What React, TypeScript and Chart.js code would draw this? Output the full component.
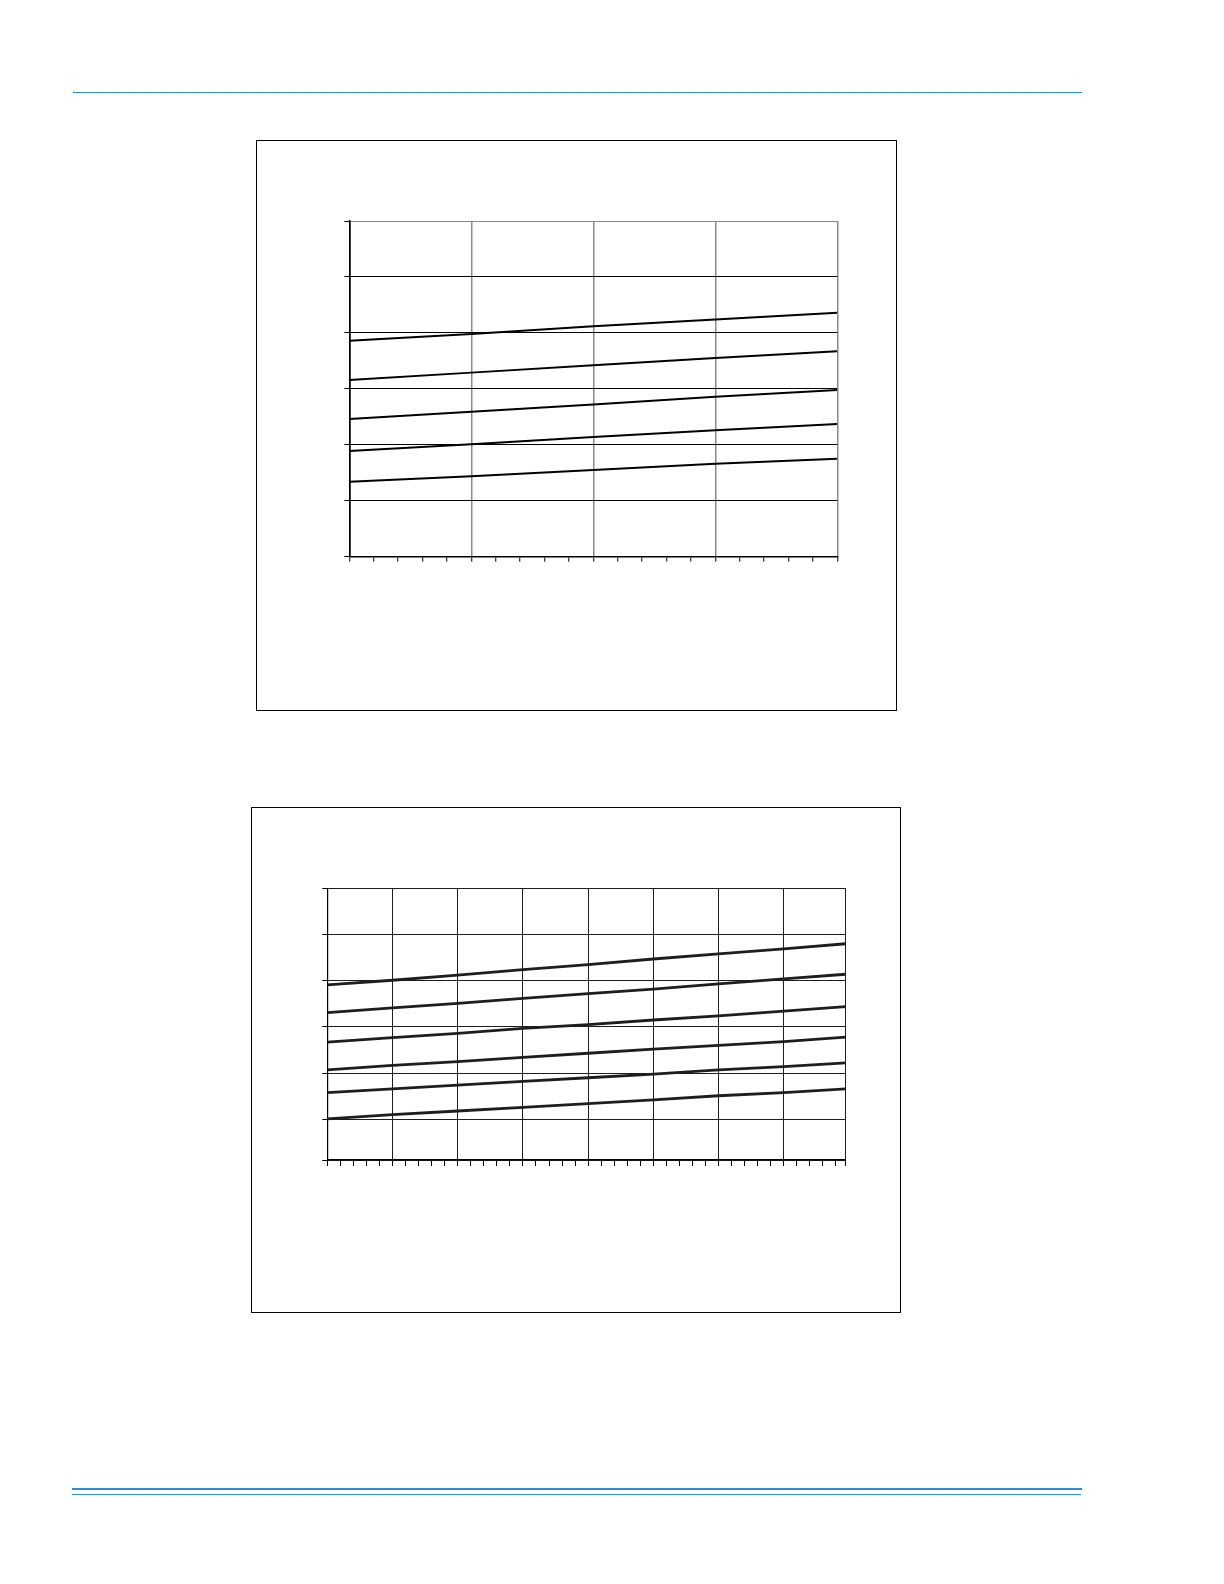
import React, { useEffect, useRef } from 'react';
import { Chart, registerables } from 'chart.js';

Chart.register(...registerables);

// Upper chart: five straight curves, read at each major x gridline
const topX = [0, 1, 2, 3, 4];
const topLine1 = [3.86, 3.98, 4.12, 4.24, 4.36];
const topLine2 = [3.16, 3.29, 3.42, 3.55, 3.67];
const topLine3 = [2.46, 2.59, 2.72, 2.86, 2.98];
const topLine4 = [1.89, 2.01, 2.14, 2.26, 2.37];
const topLine5 = [1.34, 1.44, 1.55, 1.66, 1.75];

// Lower chart: six straight curves
const bottomX = [0, 1, 2, 3, 4, 5, 6, 7, 7.95];
const bottomLine1 = [3.91, 4.01, 4.12, 4.24, 4.35, 4.47, 4.58, 4.69, 4.8];
const bottomLine2 = [3.31, 3.41, 3.51, 3.62, 3.72, 3.82, 3.93, 4.04, 4.14];
const bottomLine3 = [2.67, 2.77, 2.86, 2.97, 3.05, 3.15, 3.24, 3.34, 3.44];
const bottomLine4 = [2.07, 2.17, 2.25, 2.34, 2.43, 2.52, 2.6, 2.68, 2.78];
const bottomLine5 = [1.58, 1.66, 1.74, 1.82, 1.9, 1.98, 2.07, 2.14, 2.22];
const bottomLine6 = [1.01, 1.1, 1.18, 1.26, 1.34, 1.42, 1.51, 1.58, 1.66];

// axis ticks (no labels are printed on the page)
const topXMajors = [0, 1, 2, 3, 4];
const topYTicks = [0, 1, 2, 3, 4, 5, 6];
const bottomXMajors = [0, 1, 2, 3, 4, 5, 6, 7, 7.95];
const bottomYTicks = [0.12, 1, 2, 3, 4, 5, 6];

const minorTicks = (max: number, step: number, extra: number[]) => {
	const out: number[] = [];
	for (let i = 0; i * step <= max + 1e-9; i++) out.push(Math.round(i * step * 1000) / 1000);
	extra.forEach(v => { if (!out.some(o => Math.abs(o - v) < 1e-6)) out.push(v); });
	return out.sort((a, b) => a - b);
};

const isIn = (v: number, list: number[]) => list.some(m => Math.abs(m - v) < 1e-6);

type PlotProps = {
	left: number;
	top: number;
	width: number;
	height: number;
	padding: { left: number; top: number; right: number; bottom: number };
	xs: number[];
	lines: number[][];
	xMax: number;
	xTicks: number[];
	xMajors: number[];
	yMin: number;
	yMax: number;
	yTicks: number[];
	lineWidth: number;
	lineColor: string;
	gridX: (v: number) => string;
	gridY: (v: number) => string;
	gridXWidth: number;
	axisWidth: number;
	xTickLen: number;
	yTickLen: number;
};

const Plot: React.FC<PlotProps> = (p) => {
	const canvas = useRef<HTMLCanvasElement>(null!);

	useEffect(() => {
		const chart = new Chart(canvas.current, {
			type: 'line',
			data: {
				datasets: p.lines.map(line => ({
					data: line.map((y, i) => ({ x: p.xs[i], y })),
					borderColor: p.lineColor,
					borderWidth: p.lineWidth,
					pointRadius: 0,
					tension: 0,
					fill: false,
				})),
			},
			options: {
				responsive: false,
				animation: false,
				layout: { padding: p.padding },
				plugins: {
					legend: { display: false },
					tooltip: { enabled: false },
				},
				scales: {
					x: {
						type: 'linear',
						min: 0,
						max: p.xMax,
						afterBuildTicks: (s: any) => { s.ticks = p.xTicks.map(value => ({ value })); },
						afterFit: (s: any) => { s.height = 10; },
						ticks: { display: false, autoSkip: false },
						grid: {
							color: (ctx: any) => {
								const v = ctx.tick ? ctx.tick.value : 0;
								return isIn(v, p.xMajors) ? p.gridX(v) : 'rgba(0,0,0,0)';
							},
							lineWidth: p.gridXWidth,
							tickColor: '#000',
							tickLength: p.xTickLen,
							tickWidth: 1,
						},
						border: { display: true, color: '#000', width: p.axisWidth },
					},
					y: {
						type: 'linear',
						min: p.yMin,
						max: p.yMax,
						afterBuildTicks: (s: any) => { s.ticks = p.yTicks.map(value => ({ value })); },
						afterFit: (s: any) => { s.width = 10; },
						ticks: { display: false, autoSkip: false },
						grid: {
							color: (ctx: any) => p.gridY(ctx.tick ? ctx.tick.value : 0),
							lineWidth: 1,
							tickColor: '#000',
							tickLength: p.yTickLen,
							tickWidth: 1,
						},
						border: { display: true, color: '#000', width: p.axisWidth },
					},
				},
			},
		});

		return () => {
			chart.destroy();
		};
	}, []);

	return <canvas
		ref={canvas}
		width={p.width}
		height={p.height}
		style={{ position: 'absolute', left: p.left, top: p.top, width: p.width, height: p.height }}
	/>;
};

const blue = '#2b8bd9';

export default function App() {
	useEffect(() => {
		document.body.style.margin = '0';
	}, []);

	return <div style={{ position: 'absolute', left: 0, top: 0, width: 1224, height: 1584, background: '#fff' }}>
		<div style={{ position: 'absolute', left: 73, top: 92, width: 1009, height: 1, background: blue }}></div>

		<div style={{ position: 'absolute', left: 256, top: 140, width: 639, height: 569, border: '1px solid #000' }}></div>
		<Plot
			left={300} top={190} width={570} height={400}
			padding={{ left: 39.3, top: 31, right: 32.7, bottom: 23.3 }}
			xs={topX}
			lines={[topLine1, topLine2, topLine3, topLine4, topLine5]}
			xMax={4}
			xTicks={minorTicks(4, 0.2, topXMajors)}
			xMajors={topXMajors}
			yMin={0} yMax={6}
			yTicks={topYTicks}
			lineWidth={2}
			lineColor='#000'
			gridX={v => v === 0 ? '#000' : '#8a8a8a'}
			gridY={v => v === 6 ? '#8a8a8a' : '#000'}
			gridXWidth={1.5}
			axisWidth={1.5}
			xTickLen={5}
			yTickLen={5}
		/>

		<div style={{ position: 'absolute', left: 251, top: 807, width: 648, height: 504, border: '1px solid #000' }}></div>
		<Plot
			left={280} top={850} width={600} height={350}
			padding={{ left: 37.3, top: 38.3, right: 34.3, bottom: 30 }}
			xs={bottomX}
			lines={[bottomLine1, bottomLine2, bottomLine3, bottomLine4, bottomLine5, bottomLine6]}
			xMax={7.95}
			xTicks={minorTicks(7.95, 0.2, bottomXMajors)}
			xMajors={bottomXMajors}
			yMin={0.12} yMax={6}
			yTicks={bottomYTicks}
			lineWidth={2.8}
			lineColor='#1e1e1e'
			gridX={() => '#1e1e1e'}
			gridY={() => '#1e1e1e'}
			gridXWidth={1}
			axisWidth={1.2}
			xTickLen={6}
			yTickLen={5}
		/>

		<div style={{ position: 'absolute', left: 72, top: 1488, width: 1010, height: 2, background: blue }}></div>
		<div style={{ position: 'absolute', left: 72, top: 1494, width: 1009, height: 1, background: blue }}></div>
	</div>;
}
